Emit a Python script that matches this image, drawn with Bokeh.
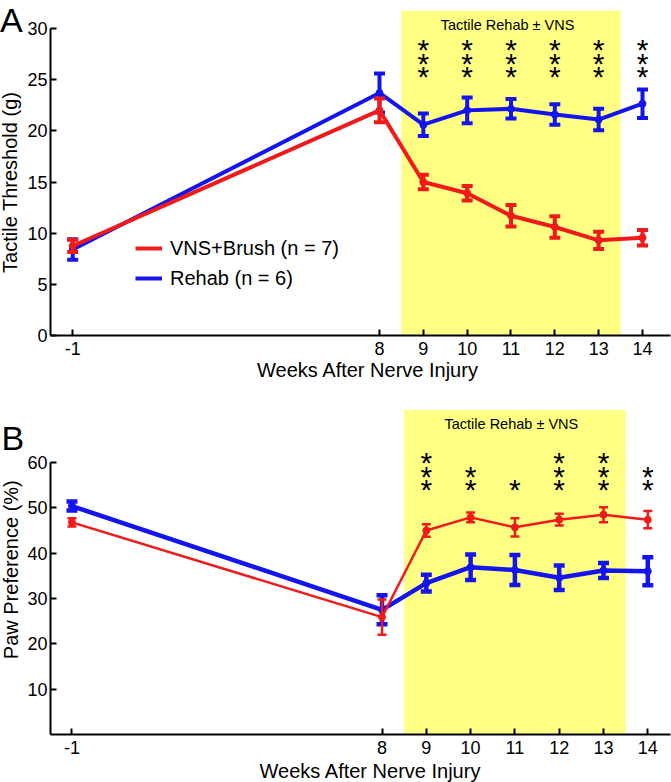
import math
from bokeh.plotting import figure
from bokeh.models import (ColumnDataSource, BoxAnnotation, Label, Legend,
                          LegendItem, FixedTicker, Range1d, GridBox, Div)
from bokeh.embed import file_html
from bokeh.resources import INLINE
from bokeh.core.properties import value

# ---------------- data ----------------
week_labels = ["-1", "8", "9", "10", "11", "12", "13", "14"]
week_pos = [1, 8, 9, 10, 11, 12, 13, 14]          # axis is broken between -1 and 8

vns_threshold = [8.75, 22.0, 15.0, 13.9, 11.7, 10.6, 9.3, 9.55]
vns_threshold_err = [0.6, 1.15, 0.7, 0.7, 1.05, 1.05, 0.85, 0.75]
rehab_threshold = [8.4, 23.7, 20.6, 22.0, 22.15, 21.6, 21.1, 22.65]
rehab_threshold_err = [1.0, 1.9, 1.1, 1.25, 0.95, 1.0, 1.05, 1.4]
threshold_stars = [0, 0, 3, 3, 3, 3, 3, 3]

vns_paw = [46.8, 25.9, 45.0, 47.9, 45.7, 47.4, 48.5, 47.4]
vns_paw_err = [0.9, 3.9, 1.4, 1.1, 2.0, 1.3, 1.65, 1.9]
rehab_paw = [50.4, 27.5, 33.4, 36.9, 36.3, 34.6, 36.2, 36.0]
rehab_paw_err = [1.0, 3.2, 1.85, 2.8, 3.3, 2.7, 1.65, 3.1]
paw_stars = [0, 0, 3, 2, 1, 3, 3, 2]

rehab_window = (8.5, 13.5)
threshold_ticks = [0, 5, 10, 15, 20, 25, 30]
paw_ticks = [10, 20, 30, 40, 50, 60]

# ---------------- style ----------------
FONT = "Liberation Sans"
RED = "#f01a1a"
BLUE = "#1414ee"
YELLOW = "#ffff84"
W = 671
FRAME_H = 325


def make_panel(height, left, top, bottom, xr, yr, ybounds, yticks,
               red_vals, red_err, blue_vals, blue_err, stars,
               red_w, blue_w, red_cap, blue_cap, star_bottom):
    p = figure(width=W, height=height, x_range=Range1d(*xr), y_range=Range1d(*yr),
               output_backend="svg", toolbar_location=None,
               min_border_left=left, min_border_right=1,
               min_border_top=top, min_border_bottom=bottom)
    p.outline_line_color = None
    p.grid.visible = False
    p.background_fill_color = "white"
    p.border_fill_color = "white"

    yppu = FRAME_H / (yr[1] - yr[0])

    for ax in (p.xaxis[0], p.yaxis[0]):
        ax.axis_line_width = 2
        ax.major_tick_line_width = 2
        ax.major_tick_in = 6
        ax.major_tick_out = 0
        ax.minor_tick_line_color = None
        ax.major_label_text_font = FONT
        ax.major_label_text_font_size = "18px"
        ax.major_label_text_color = "black"
        ax.axis_line_color = "black"
        ax.major_tick_line_color = "black"
    p.xaxis.ticker = FixedTicker(ticks=week_pos)
    p.xaxis.major_label_overrides = {wp: wl for wp, wl in zip(week_pos, week_labels)}
    p.xaxis.major_label_standoff = 6
    p.yaxis.ticker = FixedTicker(ticks=yticks)
    p.yaxis.bounds = ybounds
    p.yaxis.major_label_standoff = 3

    # rehab window band
    p.add_layout(BoxAnnotation(left=rehab_window[0], right=rehab_window[1],
                               bottom=yr[0], fill_color=YELLOW, fill_alpha=1.0,
                               line_color=None, level="image"))
    p.add_layout(Label(x=10.92, y=yr[1] - 14 / yppu, text="Tactile Rehab \u00b1 VNS",
                       text_font=FONT, text_font_size="14.5px", text_align="center",
                       text_baseline="middle", text_color="black"))

    renderers = {}
    for name, vals, err, col, lw, cap in (("blue", blue_vals, blue_err, BLUE, blue_w, blue_cap),
                                          ("red", red_vals, red_err, RED, red_w, red_cap)):
        src = ColumnDataSource(dict(x=week_pos, y=vals,
                                    lo=[v - e for v, e in zip(vals, err)],
                                    hi=[v + e for v, e in zip(vals, err)]))
        p.segment(x0="x", y0="lo", x1="x", y1="hi", source=src, line_color=col,
                  line_width=lw)
        p.scatter(x="x", y="hi", source=src, marker="dash", size=cap,
                  line_color=col, line_width=lw)
        p.scatter(x="x", y="lo", source=src, marker="dash", size=cap,
                  line_color=col, line_width=lw)
        renderers[name] = p.line(x="x", y="y", source=src, line_color=col, line_width=lw)
        p.scatter(x="x", y="y", source=src, marker="circle", size=7,
                  fill_color=col, line_color=col)

    # significance stars (stacked from the bottom)
    sx, sy = [], []
    for wp, n in zip(week_pos, stars):
        for k in range(n):
            sx.append(wp)
            sy.append(star_bottom + k * 13.3 / yppu - 5.5 / yppu)
    p.text(x=sx, y=sy, text=["*"] * len(sx), text_font=value(FONT),
           text_font_size="30px", text_align="center", text_baseline="alphabetic",
           text_color="black")
    return p, renderers


def text_overlay(height, letter, letter_xy, ylabel, ylabel_xy, xtitle_xy):
    """Panel letter and axis titles, which lie outside the plot frame."""
    f = f'font-family="{FONT}" fill="black"'
    svg = (
        f'<svg xmlns="http://www.w3.org/2000/svg" width="{W}" height="{height}" '
        f'style="display:block;pointer-events:none">'
        f'<text x="{letter_xy[0]}" y="{letter_xy[1]}" {f} font-size="34px">{letter}</text>'
        f'<text x="{ylabel_xy[0]}" y="{ylabel_xy[1]}" {f} font-size="20px" text-anchor="middle" '
        f'dominant-baseline="central" transform="rotate(-90 {ylabel_xy[0]} {ylabel_xy[1]})">{ylabel}</text>'
        f'<text x="{xtitle_xy[0]}" y="{xtitle_xy[1]}" {f} font-size="20px" '
        f'text-anchor="middle">Weeks After Nerve Injury</text>'
        f'</svg>'
    )
    return Div(text=svg, width=W, height=height,
               styles={"pointer-events": "none", "margin": "0", "padding": "0"})


HA, HB = 383, 399

pA, rA = make_panel(HA, 50, 10, 48, (0.4935, 0.4935 + 620 / 43.83), (0, 31.76), (0, 30),
                    threshold_ticks,
                    vns_threshold, vns_threshold_err, rehab_threshold, rehab_threshold_err,
                    threshold_stars, 4, 4, 11, 11, 25.85)

legend = Legend(items=[LegendItem(label="VNS+Brush (n = 7)", renderers=[rA["red"]]),
                       LegendItem(label="Rehab (n = 6)", renderers=[rA["blue"]])],
                location=(85, 42), border_line_color=None, background_fill_alpha=0,
                padding=0, margin=0, spacing=0, glyph_width=27, glyph_height=30,
                label_height=30, label_standoff=8, label_text_font=FONT,
                label_text_font_size="20px", label_text_color="black")
pA.add_layout(legend)

pB, rB = make_panel(HB, 48, 26, 48, (0.516, 0.516 + 622 / 44.44), (0, 71.7), (0, 60),
                    paw_ticks,
                    vns_paw, vns_paw_err, rehab_paw, rehab_paw_err,
                    paw_stars, 2.5, 4.5, 9, 11, 55.3)

oA = text_overlay(HA, "A", (0, 32), "Tactile Threshold (g)", (10, 182.5), (367.5, 376.5))
oB = text_overlay(HB, "B", (1.5, 67), "Paw Preference (%)", (11, 186.7), (370, 395))

layout = GridBox(children=[(pA, 0, 0), (oA, 0, 0), (pB, 1, 0), (oB, 1, 0)], spacing=0)
open("out.html", "w").write(file_html(layout, INLINE))
